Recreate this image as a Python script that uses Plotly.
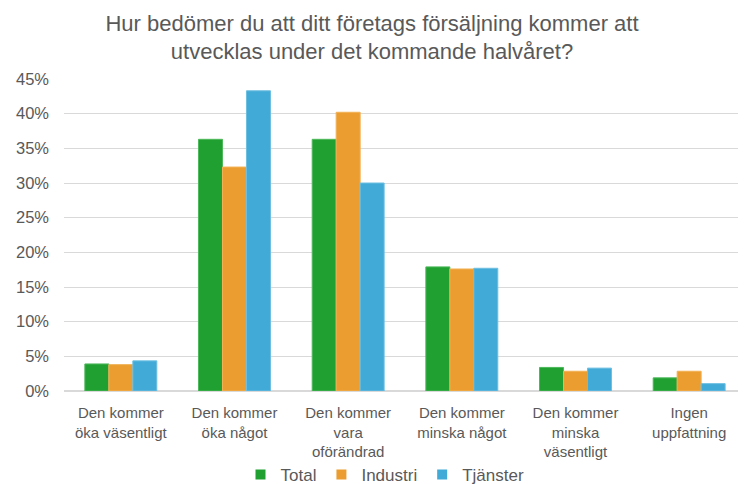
import plotly.graph_objects as go

categories = [
    "Den kommer<br>öka väsentligt",
    "Den kommer<br>öka något",
    "Den kommer<br>vara<br>oförändrad",
    "Den kommer<br>minska något",
    "Den kommer<br>minska<br>väsentligt",
    "Ingen<br>uppfattning",
]
total = [3.9, 36.3, 36.3, 17.9, 3.4, 1.9]
industri = [3.8, 32.3, 40.2, 17.6, 2.85, 2.85]
tjanster = [4.35, 43.3, 30.0, 17.7, 3.3, 1.06]
series_names = ["Total", "Industri", "Tjänster"]
colors = ["#21A032", "#EB9E2F", "#42AAD6"]
edge = ["#4CB85A", "#F2B155", "#6DBFE2"]
title_text = "Hur bedömer du att ditt företags försäljning kommer att<br>utvecklas under det kommande halvåret?"

FONT = "Liberation Sans, Arial, sans-serif"
GREY = "#595959"

# page body has an 8px margin; figure is sized to fill the remaining window
W, H = 738, 476

fig = go.Figure()
for name, vals, c, e in zip(series_names, [total, industri, tjanster], colors, edge):
    fig.add_trace(go.Bar(x=categories, y=vals, name=name, showlegend=False,
                         marker=dict(color=c, line=dict(color=e, width=1))))
# legend entries with square swatches
for name, c in zip(series_names, colors):
    fig.add_trace(go.Scatter(x=[None], y=[None], mode="markers", name=name,
                             marker=dict(symbol="square", size=10, color=c)))

fig.update_layout(
    width=W, height=H,
    paper_bgcolor="white", plot_bgcolor="white",
    font=dict(family=FONT, color=GREY, size=16),
    title=dict(
        text=title_text,
        x=(372 - 8) / W, xanchor="center", xref="container",
        yref="container", y=1 - 22.5 / H, yanchor="middle",
        font=dict(size=22, color=GREY, family=FONT),
    ),
    margin=dict(l=56, r=0, t=71, b=93, autoexpand=False),
    barmode="group", bargap=0.367, bargroupgap=0,
    legend=dict(orientation="h", x=(385 - 64) / 682, xanchor="center", y=-84 / 312, yanchor="middle",
                font=dict(size=17, color=GREY, family=FONT), traceorder="normal",
                itemwidth=30, tracegroupgap=0),
    showlegend=True,
)
fig.update_yaxes(range=[0, 45], dtick=5, ticksuffix="%", showgrid=True, gridcolor="#D9D9D9",
                 gridwidth=1, zeroline=True, zerolinecolor="#D9D9D9", showline=False,
                 tickfont=dict(size=16.5, color=GREY, family=FONT), ticks="", ticklen=0,
                 ticklabelstandoff=14, automargin=False)
fig.update_xaxes(showline=True, linecolor="#D9D9D9", tickfont=dict(size=15, color=GREY, family=FONT),
                 ticks="", automargin=False, tickangle=0, ticklabelstandoff=8)

fig.write_html("out.html")
